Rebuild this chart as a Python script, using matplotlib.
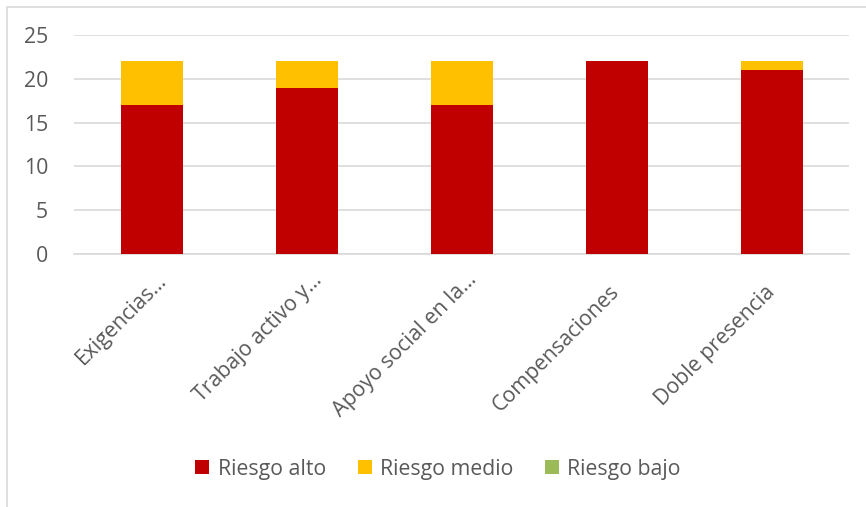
import matplotlib.pyplot as plt
import matplotlib.patches as patches
import matplotlib.transforms as mtransforms
import numpy as np

categorias = ["Exigencias…", "Trabajo activo y…", "Apoyo social en la…",
              "Compensaciones", "Doble presencia"]
riesgo_alto = [17, 19, 17, 22, 21]
riesgo_medio = [5, 3, 5, 0, 1]
riesgo_bajo = [0, 0, 0, 0, 0]

plt.rcParams["font.family"] = ["Open Sans", "DejaVu Sans"]
txt = "#595959"
fs = 15.3

fig = plt.figure(figsize=(8.66, 5.07), dpi=100)
ax = fig.add_axes([74/866, 1-254/507, (849-74)/866, (254-35)/507])

# chart border (only left/top visible in the crop)
fig.patches.append(patches.Rectangle((7/866, -0.1), 1.2, 1 - 7/507 + 0.1,
                                     transform=fig.transFigure, fill=False,
                                     edgecolor="#D9D9D9", lw=1.2))

x = np.arange(len(categorias))
w = 0.4
alto = np.array(riesgo_alto)
medio = np.array(riesgo_medio)
ax.bar(x, alto, w, color="#C00000", label="Riesgo alto", zorder=3)
ax.bar(x, medio, w, bottom=alto, color="#FFC000", label="Riesgo medio", zorder=3)
ax.bar(x, riesgo_bajo, w, bottom=alto + medio, color="#9BBB59", label="Riesgo bajo", zorder=3)

ax.set_xlim(-0.5, len(categorias) - 0.5)
ax.set_ylim(0, 25)
ax.set_yticks(range(0, 26, 5))
ax.grid(axis="y", color="#D9D9D9", lw=1.2, zorder=0)
for s in ["top", "right", "left"]:
    ax.spines[s].set_visible(False)
ax.spines["bottom"].set_color("#D9D9D9")
ax.spines["bottom"].set_linewidth(1.2)
ax.tick_params(length=0)
ax.tick_params(axis="y", labelsize=fs, labelcolor=txt, pad=18.5)
ax.set_xticks(x)
ax.set_xticklabels(categorias, rotation=45, ha="right", va="baseline",
                   rotation_mode="anchor", fontsize=fs, color=txt)
ax.tick_params(axis="x", pad=28)
# Excel puts the truncated labels a bit further up along the text direction
for lab in ax.get_xticklabels():
    dx, dy = (0.16, 0.12) if lab.get_text().endswith("…") else (0.04, 0.0)
    shift = mtransforms.ScaledTranslation(dx, dy, fig.dpi_scale_trans)
    lab.set_transform(lab.get_transform() + shift)

fig.legend(loc="center", bbox_to_anchor=(438/866, 1-469/507), ncol=3, frameon=False,
           fontsize=fs, labelcolor=txt, handlelength=0.66, handleheight=0.66,
           handletextpad=0.38, columnspacing=1.5)

fig.savefig("out.png", dpi=100)
